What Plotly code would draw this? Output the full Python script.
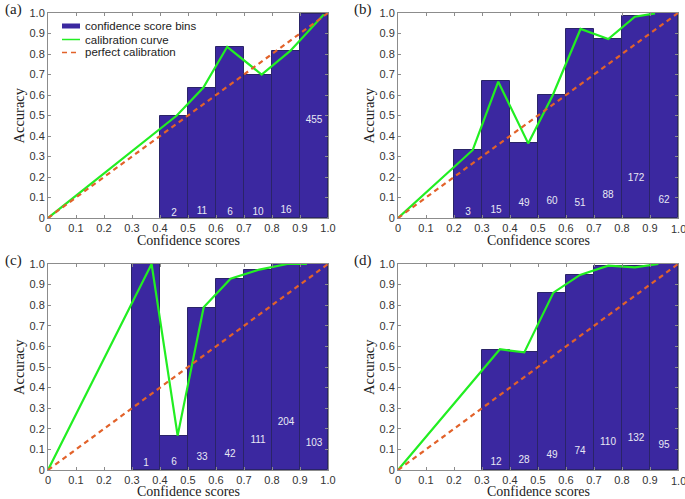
import plotly.graph_objects as go

# ---------------- data ----------------
tick_values = [0.0, 0.1, 0.2, 0.3, 0.4, 0.5, 0.6, 0.7, 0.8, 0.9, 1.0]
tick_labels = ["0", "0.1", "0.2", "0.3", "0.4", "0.5", "0.6", "0.7", "0.8", "0.9", "1.0"]
bin_width = 0.1

# (a)
a_bin_lower = [0.4, 0.5, 0.6, 0.7, 0.8, 0.9]
a_accuracy = [0.50, 0.636, 0.833, 0.70, 0.8125, 0.993]
a_counts = [2, 11, 6, 10, 16, 455]
a_curve_conf = [0.0, 0.46, 0.555, 0.64, 0.763, 0.865, 0.985]
a_curve_acc = [0.0, 0.50, 0.636, 0.835, 0.70, 0.815, 0.993]
a_label_heights = [0.023, 0.03, 0.026, 0.026, 0.035, 0.478]

# (b)
b_bin_lower = [0.2, 0.3, 0.4, 0.5, 0.6, 0.7, 0.8, 0.9]
b_accuracy = [0.333, 0.667, 0.367, 0.60, 0.922, 0.875, 0.983, 1.0]
b_counts = [3, 15, 49, 60, 51, 88, 172, 62]
b_curve_conf = [0.0, 0.267, 0.358, 0.465, 0.553, 0.652, 0.751, 0.846, 0.918]
b_curve_acc = [0.0, 0.332, 0.665, 0.364, 0.60, 0.922, 0.873, 0.982, 0.998]
b_label_heights = [0.026, 0.037, 0.073, 0.081, 0.073, 0.108, 0.195, 0.084]

# (c)
c_bin_lower = [0.3, 0.4, 0.5, 0.6, 0.7, 0.8, 0.9]
c_accuracy = [1.0, 0.167, 0.788, 0.929, 0.973, 1.0, 1.0]
c_counts = [1, 6, 33, 42, 111, 204, 103]
c_curve_conf = [0.0, 0.37, 0.463, 0.556, 0.652, 0.755, 0.855, 0.925]
c_curve_acc = [0.0, 1.0, 0.167, 0.79, 0.929, 0.973, 1.0, 1.0]
c_label_heights = [0.032, 0.037, 0.061, 0.073, 0.141, 0.231, 0.131]

# (d)
d_bin_lower = [0.3, 0.4, 0.5, 0.6, 0.7, 0.8, 0.9]
d_accuracy = [0.583, 0.571, 0.857, 0.946, 0.991, 0.992, 1.0]
d_counts = [12, 28, 49, 74, 110, 132, 95]
d_curve_conf = [0.0, 0.364, 0.451, 0.555, 0.65, 0.751, 0.846, 0.93]
d_curve_acc = [0.0, 0.586, 0.571, 0.861, 0.947, 0.992, 0.984, 1.0]
d_label_heights = [0.036, 0.048, 0.07, 0.092, 0.133, 0.154, 0.117]

perfect_x = [0.0, 1.0]
perfect_y = [0.0, 1.0]

panel_letters = ["(a)", "(b)", "(c)", "(d)"]
x_title = "Confidence scores"
y_title = "Accuracy"
legend_labels = ["confidence score bins", "calibration curve", "perfect calibration"]

# ---------------- style ----------------
W, H = 685, 499
BAR_COLOR = "#3B28A0"
BAR_EDGE = "#2A2468"
GREEN = "#22EE22"
ORANGE = "#E2622A"
AXIS_COLOR = "#8C8C8C"
TICK_COLOR = "#333333"
SERIF = "Liberation Serif, Times New Roman, serif"
SANS = "Liberation Sans, Arial, sans-serif"

# panel plot areas in pixels: (left, right, top, bottom)
boxes = [(48, 328, 13, 218), (398, 678, 13, 218), (48, 328, 264, 470), (398, 678, 264, 470)]
xtitle_offsets = [22, 22, 21, 21]
right_column = [False, True, False, True]

panels = [
    (a_bin_lower, a_accuracy, a_counts, a_curve_conf, a_curve_acc, a_label_heights),
    (b_bin_lower, b_accuracy, b_counts, b_curve_conf, b_curve_acc, b_label_heights),
    (c_bin_lower, c_accuracy, c_counts, c_curve_conf, c_curve_acc, c_label_heights),
    (d_bin_lower, d_accuracy, d_counts, d_curve_conf, d_curve_acc, d_label_heights),
]

fig = go.Figure()
annotations = []
shapes = []

for i, (lower, acc, counts, cc, ca, lh) in enumerate(panels):
    n = "" if i == 0 else str(i + 1)
    xa, ya = "x" + n, "y" + n
    centers = [l + bin_width / 2 for l in lower]
    fig.add_trace(go.Bar(
        x=centers, y=acc, width=bin_width, xaxis=xa, yaxis=ya,
        marker=dict(color=BAR_COLOR, line=dict(color=BAR_EDGE, width=1)),
        showlegend=False, hoverinfo="skip"))
    fig.add_trace(go.Scatter(
        x=centers, y=lh, text=[str(c) for c in counts], mode="text",
        textfont=dict(color="#E8E8F4", size=10, family=SANS),
        xaxis=xa, yaxis=ya, showlegend=False, hoverinfo="skip"))
    fig.add_trace(go.Scatter(
        x=cc, y=ca, mode="lines", line=dict(color=GREEN, width=2.2),
        xaxis=xa, yaxis=ya, showlegend=False, hoverinfo="skip"))
    fig.add_trace(go.Scatter(
        x=perfect_x, y=perfect_y, mode="lines",
        line=dict(color=ORANGE, width=2.2, dash="5px,4px"),
        xaxis=xa, yaxis=ya, showlegend=False, hoverinfo="skip"))

    L, R, T, B = boxes[i]
    axis_common = dict(
        range=[0, 1], tickvals=tick_values, ticktext=tick_labels,
        ticks="inside", ticklen=3, tickcolor=AXIS_COLOR,
        showline=True, linecolor=AXIS_COLOR, linewidth=1, mirror="ticks",
        showgrid=False, zeroline=False, fixedrange=True, automargin=False,
        ticklabeloverflow="allow",
        tickfont=dict(family=SANS, size=11, color=TICK_COLOR),
    )
    x_ticktext = list(tick_labels)
    if right_column[i]:
        # the last label sits at the page edge, where plotly drops it; place it as text instead
        x_ticktext[-1] = ""
        annotations.append(dict(text=tick_labels[-1], x=1.0, y=1 - (B + 11) / H,
                                xref=xa, yref="paper", showarrow=False,
                                xanchor="center", yanchor="middle",
                                font=dict(family=SANS, size=11, color=TICK_COLOR)))
    fig.layout["xaxis" + n] = dict(axis_common, ticktext=x_ticktext,
                                   domain=[L / W, R / W], anchor=ya)
    fig.layout["yaxis" + n] = dict(axis_common, domain=[1 - B / H, 1 - T / H], anchor=xa)

    # axis titles and panel letters
    annotations.append(dict(text=x_title, x=(L + R) / 2 / W, y=1 - (B + xtitle_offsets[i]) / H,
                            xref="paper", yref="paper", showarrow=False,
                            xanchor="center", yanchor="middle",
                            font=dict(family=SERIF, size=14, color="#222222")))
    annotations.append(dict(text=y_title, x=(L - 29) / W, y=1 - (T + B) / 2 / H,
                            xref="paper", yref="paper", showarrow=False, textangle=-90,
                            xanchor="center", yanchor="middle",
                            font=dict(family=SERIF, size=14.5, color="#222222")))
    annotations.append(dict(text=panel_letters[i], x=(L - 35) / W, y=1 - (T - 4) / H,
                            xref="paper", yref="paper", showarrow=False,
                            xanchor="center", yanchor="middle",
                            font=dict(family=SERIF, size=15, color="#222222")))

# manual legend in panel (a)
lx0, lx1, tx = 62 / W, 80 / W, 83 / W
ly = [26, 39.5, 52.5]
shapes.append(dict(type="rect", xref="paper", yref="paper", x0=lx0, x1=lx1,
                   y0=1 - (ly[0] + 2.5) / H, y1=1 - (ly[0] - 2.5) / H,
                   fillcolor=BAR_COLOR, line=dict(width=0)))
shapes.append(dict(type="line", xref="paper", yref="paper", x0=lx0, x1=lx1,
                   y0=1 - ly[1] / H, y1=1 - ly[1] / H, line=dict(color=GREEN, width=1.5)))
shapes.append(dict(type="line", xref="paper", yref="paper", x0=lx0, x1=lx1,
                   y0=1 - ly[2] / H, y1=1 - ly[2] / H,
                   line=dict(color=ORANGE, width=1.5, dash="5px,4px")))
for lab, yy in zip(legend_labels, ly):
    annotations.append(dict(text=lab, x=tx, y=1 - yy / H, xref="paper", yref="paper",
                            showarrow=False, xanchor="left", yanchor="middle",
                            font=dict(family=SANS, size=11.5, color="#222222")))

fig.update_layout(
    width=W, height=H, margin=dict(l=0, r=0, t=0, b=0),
    paper_bgcolor="white", plot_bgcolor="white",
    annotations=annotations, shapes=shapes, bargap=0,
)

# remove the page's default body margin, then redraw so nothing is judged off-screen
post = (
    "document.body.style.margin='0';document.body.style.padding='0';"
    "document.body.style.overflow='hidden';"
    "var gd=document.getElementById('{plot_id}');"
    "Plotly.newPlot(gd, gd.data, gd.layout, {displayModeBar:false, responsive:false});"
)
fig.write_html("out.html", config={"displayModeBar": False}, post_script=post)
